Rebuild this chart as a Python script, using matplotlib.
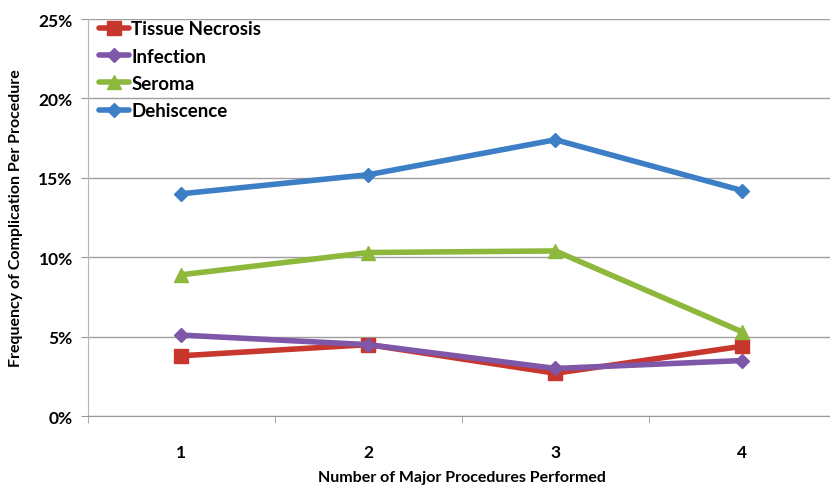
import matplotlib.pyplot as plt
from matplotlib.ticker import PercentFormatter

plt.rcParams['font.family'] = ['Lato', 'DejaVu Sans']
plt.rcParams['font.weight'] = 'bold'

procedures = [1, 2, 3, 4]
tissue_necrosis = [3.8, 4.5, 2.7, 4.4]
infection = [5.1, 4.5, 3.0, 3.5]
seroma = [8.9, 10.3, 10.4, 5.3]
dehiscence = [14.0, 15.2, 17.4, 14.2]

series = [
    ('Tissue Necrosis', tissue_necrosis, '#c8372d', 's', 9.5),
    ('Infection', infection, '#7e57a8', 'D', 7.5),
    ('Seroma', seroma, '#8db83c', '^', 9.5),
    ('Dehiscence', dehiscence, '#3c7fc6', 'D', 7.5),
]

fig = plt.figure(figsize=(8.3, 4.89), dpi=100)
ax = fig.add_axes([0.106, 0.147, 0.901, 0.812])

for name, vals, color, marker, ms in series:
    ax.plot(procedures, [v / 100 for v in vals], color=color, lw=4,
            marker=marker, markersize=ms, label=name, solid_capstyle='round')

ax.set_xlim(0.5, 4.5)
ax.set_ylim(0, 0.25)
ax.set_yticks([0, 0.05, 0.10, 0.15, 0.20, 0.25])
ax.yaxis.set_major_formatter(PercentFormatter(1.0, decimals=0))
ax.set_xticks(procedures)
ax.set_xticks([0.5, 1.5, 2.5, 3.5, 4.5], minor=True)
ax.tick_params(axis='x', which='major', length=0, pad=20, labelsize=12.5)
ax.tick_params(axis='x', which='minor', length=5, color='#999999', direction='out')
ax.tick_params(axis='y', length=5, color='#999999', labelsize=12.5, pad=6)

ax.grid(axis='y', color='#a09e9e', lw=1)
ax.set_axisbelow(True)
for s in ['top', 'right']:
    ax.spines[s].set_visible(False)
ax.spines['left'].set_color('#b5b5b5')
ax.spines['bottom'].set_color('#999999')

ax.set_xlabel('Number of Major Procedures Performed', fontsize=11.5,
              fontweight='bold', va='center')
ax.xaxis.set_label_coords(0.5, -0.153)
ax.set_ylabel('Frequency of Complication Per Procedure', fontsize=11.5,
              fontweight='bold', labelpad=11)

ax.legend(loc='upper left', frameon=False, fontsize=13.5, handlelength=1.6,
          handletextpad=0.1, labelspacing=0.55, borderaxespad=0.2,
          bbox_to_anchor=(0.0, 1.025))

fig.savefig('out.png', dpi=100)
